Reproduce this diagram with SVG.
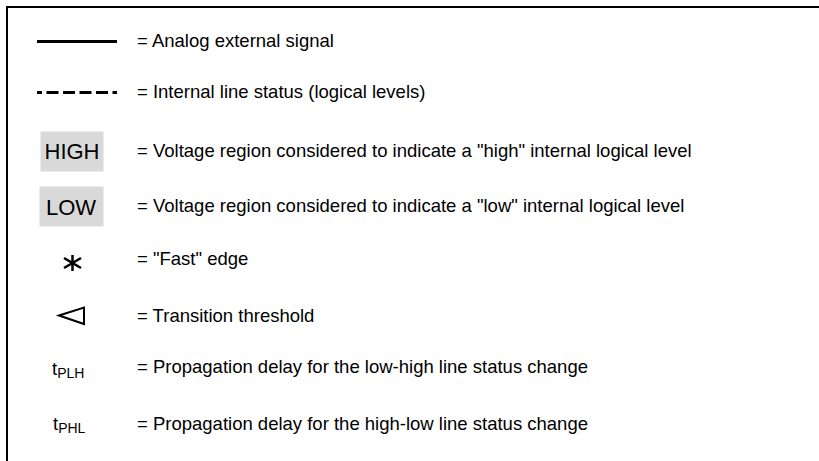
<svg xmlns="http://www.w3.org/2000/svg" width="819" height="461" viewBox="0 0 819 461">
<style>
text{font-family:"Liberation Sans",Arial,sans-serif;fill:#000}
.d{font-size:18.5px}
.big{font-size:22px}
.sym{stroke:#000;fill:none}
</style>
<rect width="819" height="461" fill="#fff"/>
<path d="M7,461 V7 H819" fill="none" stroke="#000" stroke-width="2"/>
<g id="legend-analog">
<line class="sym" x1="37" y1="41.5" x2="117" y2="41.5" stroke-width="3"/>
<text class="d" x="137" y="47">= Analog external signal</text>
</g>
<g id="legend-internal">
<line class="sym" x1="37" y1="92.5" x2="117" y2="92.5" stroke-width="3" stroke-dasharray="12 4.5" stroke-dashoffset="7"/>
<text class="d" x="137" y="98">= Internal line status (logical levels)</text>
</g>
<g id="legend-high">
<rect x="40.5" y="131.5" width="63" height="40" fill="#d9d9d9"/>
<text class="big" x="72" y="159" text-anchor="middle">HIGH</text>
<text class="d" x="137" y="157">= Voltage region considered to indicate a "high" internal logical level</text>
</g>
<g id="legend-low">
<rect x="39.5" y="186.5" width="64" height="40" fill="#d9d9d9"/>
<text class="big" x="71" y="215" text-anchor="middle">LOW</text>
<text class="d" x="137" y="212">= Voltage region considered to indicate a "low" internal logical level</text>
</g>
<g id="legend-fast">
<g class="sym" stroke-width="2.5">
<line x1="72.5" y1="255" x2="72.5" y2="271"/>
<line x1="64" y1="258" x2="81" y2="268"/>
<line x1="64" y1="268" x2="81" y2="258"/>
</g>
<text class="d" x="137" y="265">= "Fast" edge</text>
</g>
<g id="legend-threshold">
<polygon class="sym" points="59,315.5 84,307.5 84,324" stroke-width="2"/>
<text class="d" x="137" y="322">= Transition threshold</text>
</g>
<g id="legend-tplh">
<text class="d" x="52" y="375">t<tspan font-size="14" dy="3">PLH</tspan></text>
<text class="d" x="137" y="373">= Propagation delay for the low-high line status change</text>
</g>
<g id="legend-tphl">
<text class="d" x="53" y="430">t<tspan font-size="14" dy="3">PHL</tspan></text>
<text class="d" x="137" y="430">= Propagation delay for the high-low line status change</text>
</g>
</svg>
